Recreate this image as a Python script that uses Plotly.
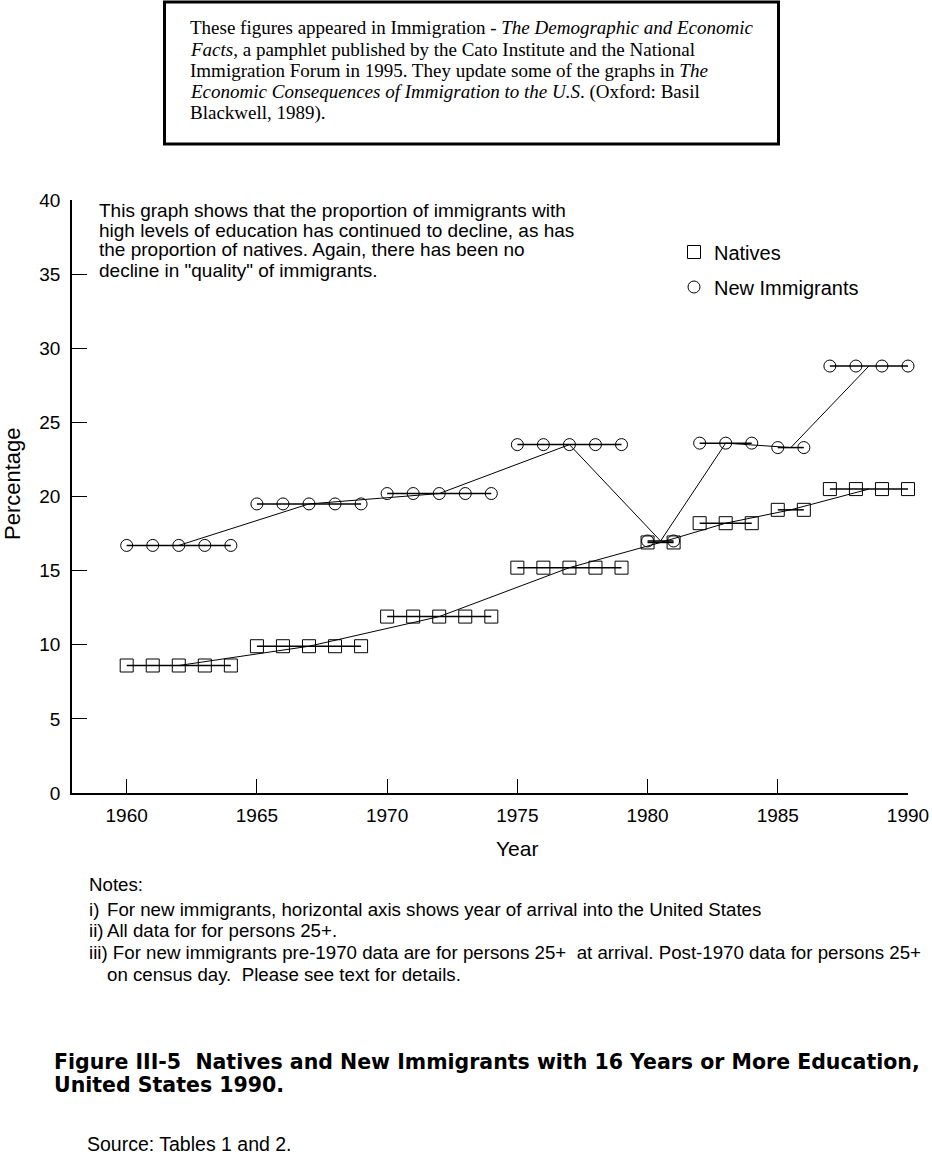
import plotly.graph_objects as go

# ---------------- data ----------------
period_start = [1960, 1965, 1970, 1975, 1980, 1982, 1985, 1987]
period_end = [1964, 1969, 1974, 1979, 1981, 1984, 1986, 1990]
natives_pct = [8.6, 9.9, 11.9, 15.2, 16.9, 18.2, 19.1, 20.5]
immigrants_pct = [16.7, 19.5, 20.2, 23.5, 17.0, 23.6, 23.3, 28.8]
x_ticks = [1960, 1965, 1970, 1975, 1980, 1985, 1990]
y_ticks = [0, 5, 10, 15, 20, 25, 30, 35, 40]

box_lines = [
    "These figures appeared in Immigration - <i>The Demographic and Economic</i>",
    "<i>Facts</i>, a pamphlet published by the Cato Institute and the National",
    "Immigration Forum in 1995. They update some of the graphs in <i>The</i>",
    "<i>Economic Consequences of Immigration to the U.S</i>. (Oxford: Basil",
    "Blackwell, 1989).",
]
chart_note_lines = [
    "This graph shows that the proportion of immigrants with",
    "high levels of education has continued to decline, as has",
    "the proportion of natives. Again, there has been no",
    "decline in \"quality\" of immigrants.",
]
notes = [
    ("", "Notes:"),
    ("i)", "For new immigrants, horizontal axis shows year of arrival into the United States"),
    ("ii)", "All data for for persons 25+."),
    ("", "iii) For new immigrants pre-1970 data are for persons 25+  at arrival. Post-1970 data for persons 25+"),
    ("", "on census day.  Please see text for details."),
]
title_lines = [
    "Figure III-5  Natives and New Immigrants with 16 Years or More Education,",
    "United States 1990.",
]
source_text = "Source: Tables 1 and 2."

# ---------------- layout geometry (pixels) ----------------
FW, FH = 932, 1157
L, R, T, B = 72, 908, 200, 793
W, H = R - L, B - T


def px_x(p):
    return (p - L) / W


def px_y(p):
    return (B - p) / H


SANS = "Liberation Sans, Arial, Helvetica, sans-serif"
SERIF = "Liberation Serif, Times New Roman, serif"
TITLE_FONT = "DejaVu Sans, Liberation Sans, Arial, sans-serif"


def expand(values):
    xs, ys, xg, yg = [], [], [], []
    for s, e, v in zip(period_start, period_end, values):
        for yr in range(s, e + 1):
            xs.append(yr)
            ys.append(v)
            xg.append(yr)
            yg.append(v)
        xg.append(None)
        yg.append(None)
    mids = [(s + e) / 2 for s, e in zip(period_start, period_end)]
    return xs, ys, xg, yg, mids


fig = go.Figure()

for name, vals, sym, size in [
    ("Natives", natives_pct, "square-open", 13),
    ("New Immigrants", immigrants_pct, "circle-open", 12),
]:
    xs, ys, xg, yg, mids = expand(vals)
    fig.add_trace(go.Scatter(x=xg, y=yg, mode="lines", line=dict(color="black", width=1.5),
                             showlegend=False, hoverinfo="skip", cliponaxis=False))
    fig.add_trace(go.Scatter(x=mids, y=vals, mode="lines", line=dict(color="black", width=1),
                             showlegend=False, hoverinfo="skip", cliponaxis=False))
    fig.add_trace(go.Scatter(x=xs, y=ys, mode="markers", name=name, legendgroup=name,
                             marker=dict(symbol=sym, size=size, color="black", line=dict(width=1)),
                             cliponaxis=False))

annotations = []
# boxed citation text
box_centers = [27, 49, 70.5, 91.5, 113]
for txt, cy in zip(box_lines, box_centers):
    annotations.append(dict(x=px_x(188), y=px_y(cy), xref="paper", yref="paper", xanchor="left",
                            yanchor="middle", text=txt, showarrow=False,
                            font=dict(family=SERIF, size=19, color="black")))
# chart description
for i, txt in enumerate(chart_note_lines):
    annotations.append(dict(x=px_x(97), y=px_y(210 + 20 * i), xref="paper", yref="paper",
                            xanchor="left", yanchor="middle", text=txt, showarrow=False,
                            font=dict(family=SANS, size=19, color="black")))
# notes
note_y = [884, 909, 930, 952, 974]
body_x = [87, 105, 105, 87, 105]
for (pre, body), cy, bx in zip(notes, note_y, body_x):
    if pre:
        annotations.append(dict(x=px_x(87), y=px_y(cy), xref="paper", yref="paper", xanchor="left",
                                yanchor="middle", text=pre, showarrow=False,
                                font=dict(family=SANS, size=18.7, color="black")))
    annotations.append(dict(x=px_x(bx), y=px_y(cy), xref="paper", yref="paper", xanchor="left",
                            yanchor="middle", text=body, showarrow=False,
                            font=dict(family=SANS, size=18.7, color="black")))
# figure title
for txt, cy in zip(title_lines, [1062, 1085]):
    annotations.append(dict(x=px_x(52), y=px_y(cy), xref="paper", yref="paper", xanchor="left",
                            yanchor="middle", text="<b>" + txt + "</b>", showarrow=False,
                            font=dict(family=TITLE_FONT, size=20.5, color="black")))
annotations.append(dict(x=px_x(85), y=px_y(1144), xref="paper", yref="paper", xanchor="left",
                        yanchor="middle", text=source_text, showarrow=False,
                        font=dict(family=SANS, size=19.5, color="black")))
# axis titles
annotations.append(dict(x=px_x(517), y=px_y(848), xref="paper", yref="paper", xanchor="center",
                        yanchor="middle", text="Year", showarrow=False,
                        font=dict(family=SANS, size=21, color="black")))
annotations.append(dict(x=px_x(12), y=px_y(484), xref="paper", yref="paper", xanchor="center",
                        yanchor="middle", text="Percentage", textangle=-90, showarrow=False,
                        font=dict(family=SANS, size=22, color="black")))

fig.update_layout(
    width=FW, height=FH,
    margin=dict(l=L, r=FW - R, t=T, b=FH - B, autoexpand=False),
    paper_bgcolor="white", plot_bgcolor="white",
    font=dict(family=SANS, color="black"),
    showlegend=True,
    legend=dict(x=px_x(674), y=px_y(232.5), xanchor="left", yanchor="top",
                font=dict(family=SANS, size=20, color="black"),
                bgcolor="rgba(0,0,0,0)", tracegroupgap=6),
    annotations=annotations,
    shapes=[dict(type="rect", xref="paper", yref="paper",
                 x0=px_x(164.5), x1=px_x(778.5), y0=px_y(144), y1=px_y(2),
                 line=dict(color="black", width=3), fillcolor="rgba(0,0,0,0)")],
)
fig.update_xaxes(range=[1957.9, 1990], tickvals=x_ticks, ticks="inside", ticklen=14, tickwidth=1.3,
                 tickcolor="black", showline=True, linecolor="black", linewidth=1.5,
                 showgrid=False, zeroline=False, ticklabelstandoff=4,
                 tickfont=dict(family=SANS, size=19, color="black"))
fig.update_yaxes(range=[0, 40], tickvals=y_ticks, ticks="inside", ticklen=15, tickwidth=1.3,
                 tickcolor="black", showline=True, linecolor="black", linewidth=1.5,
                 showgrid=False, zeroline=False, ticklabelstandoff=6,
                 tickfont=dict(family=SANS, size=19, color="black"))

fig.write_html("out.html", config={"displayModeBar": False},
               post_script="document.body.style.margin='0px';")
